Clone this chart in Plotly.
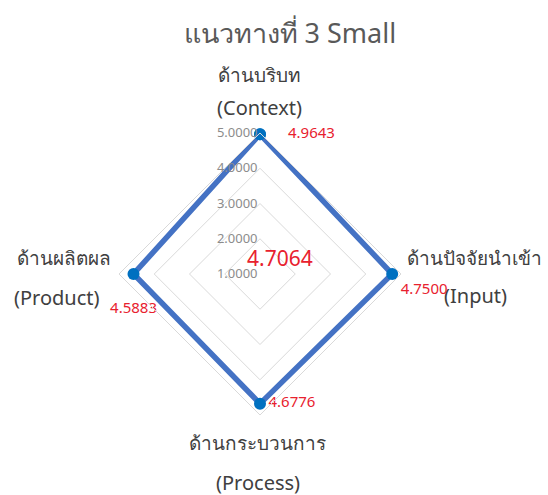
import plotly.graph_objects as go

title = "แนวทางที่ 3 Small"
categories = ["ด้านบริบท", "ด้านปัจจัยนำเข้า", "ด้านกระบวนการ", "ด้านผลิตผล"]
categories_en = ["(Context)", "(Input)", "(Process)", "(Product)"]
values = [4.9643, 4.7500, 4.6776, 4.5883]
overall = 4.7064
radial_ticks = [1, 2, 3, 4, 5]

font_family = "Noto Sans, Tahoma, sans-serif"
label_pos = ["middle right", "bottom right", "middle right", "bottom center"]
label_txt = ["     {:.4f}", "{:.4f}", "{:.4f}", "<br>{:.4f}"]

fig = go.Figure()
fig.add_trace(go.Scatterpolar(
    r=values + values[:1],
    theta=categories + categories[:1],
    mode="lines+markers+text",
    line=dict(color="#4472C4", width=5.5),
    marker=dict(color="#0070C0", size=12),
    text=[t.format(v) for t, v in zip(label_txt, values)] + [""],
    textposition=label_pos + ["top center"],
    textfont=dict(color="#E8212E", size=15, family=font_family),
    showlegend=False,
    hoverinfo="skip",
))

fig.update_layout(
    width=548,
    height=495,
    margin=dict(l=0, r=0, t=0, b=0),
    paper_bgcolor="white",
    font=dict(family=font_family, color="#595959"),
    title=dict(text=title, x=0.529, y=0.933, xanchor="center", yanchor="middle",
               font=dict(size=27, color="#595959")),
    polar=dict(
        domain=dict(x=[119 / 548, 401 / 548], y=[80 / 495, 362 / 495]),
        gridshape="linear",
        bgcolor="white",
        radialaxis=dict(
            range=[1, 5],
            tickvals=radial_ticks,
            tickformat=".4f",
            angle=90,
            tickangle=90,
            side="counterclockwise",
            showline=False,
            ticks="",
            gridcolor="#D9D9D9",
            gridwidth=1,
            tickfont=dict(size=13, color="#8C8C8C"),
        ),
        angularaxis=dict(
            rotation=90,
            direction="clockwise",
            showticklabels=False,
            showgrid=False,
            linecolor="#D9D9D9",
            ticks="",
        ),
    ),
)

# axis labels (two lines each)
label_xy = [(259, 75, 259, 108, "center"), (405, 258, 475, 295, "left"),
            (257, 443, 258, 482, "center"), (64, 258, 57, 297, "center")]
for (x1, y1, x2, y2, anchor), th, en in zip(label_xy, categories, categories_en):
    fig.add_annotation(text=th, x=x1 / 548, y=1 - y1 / 495, xref="paper", yref="paper",
                       xanchor=anchor, yanchor="middle", showarrow=False,
                       font=dict(size=19, color="#404040"))
    fig.add_annotation(text=en, x=x2 / 548, y=1 - y2 / 495, xref="paper", yref="paper",
                       xanchor="center", yanchor="middle", showarrow=False,
                       font=dict(size=20, color="#404040"))

fig.add_annotation(text=f"{overall:.4f}", x=280 / 548, y=1 - 258 / 495,
                   xref="paper", yref="paper", showarrow=False,
                   font=dict(size=21, color="#E8212E"))

fig.write_html("out.html", config={"displayModeBar": False},
               post_script="document.body.style.margin='0';")
